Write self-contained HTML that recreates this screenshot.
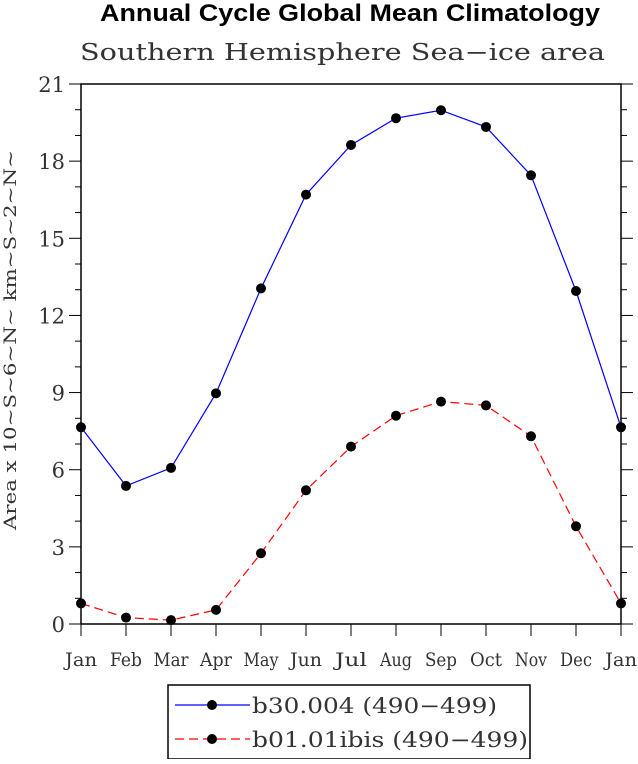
<!DOCTYPE html>
<html><head><meta charset="utf-8"><style>
body{margin:0;background:#fff;}
svg text{font-family:"DejaVu Serif","Liberation Serif",serif;fill:#333;}
</style></head><body>
<svg id="chart" width="638" height="759" xmlns="http://www.w3.org/2000/svg">
<text x="100" y="21" textLength="500" lengthAdjust="spacingAndGlyphs" style="font-family:'Liberation Sans',sans-serif;font-weight:bold;font-size:24px;fill:#000">Annual Cycle Global Mean Climatology</text>
<text x="80" y="60" textLength="525" lengthAdjust="spacingAndGlyphs" font-size="23" font-weight="300">Southern Hemisphere Sea−ice area</text>
<text transform="translate(16,530) rotate(-90)" textLength="380" lengthAdjust="spacingAndGlyphs" font-size="17">Area x 10~S~6~N~ km~S~2~N~</text>
<g id="axes"></g>
<g id="series"></g>
<g>
<rect x="168" y="685" width="362" height="74" fill="#fff" stroke="#000" stroke-width="1.5"/>
<line x1="175" y1="705" x2="250" y2="705" stroke="#0000ff" stroke-width="1.2"/>
<circle cx="212" cy="705" r="5" fill="#000"/>
<text x="252" y="713" textLength="245" lengthAdjust="spacingAndGlyphs" font-size="21">b30.004 (490−499)</text>
<line x1="175" y1="739" x2="250" y2="739" stroke="#ff0000" stroke-width="1.2" stroke-dasharray="9,5"/>
<circle cx="212" cy="739" r="5" fill="#000"/>
<text x="252" y="747" textLength="276" lengthAdjust="spacingAndGlyphs" font-size="21">b01.01ibis (490−499)</text>
</g>
</svg>
<script>
const months=["Jan","Feb","Mar","Apr","May","Jun","Jul","Aug","Sep","Oct","Nov","Dec","Jan"];
const seriesB30=[7.65,5.37,6.07,8.97,13.05,16.7,18.63,19.67,19.98,19.33,17.45,12.95,7.65];
const seriesB01=[0.8,0.25,0.15,0.55,2.75,5.2,6.9,8.1,8.65,8.5,7.3,3.8,0.8];
const yTicks=[0,3,6,9,12,15,18,21];
const NS="http://www.w3.org/2000/svg";
const X0=81,X1=621,Y0=624,Y1=84,YMAX=21;
const xs=i=>X0+i*(X1-X0)/(months.length-1);
const ys=v=>Y0-v*(Y0-Y1)/YMAX;
function mk(tag,attrs,parent){const e=document.createElementNS(NS,tag);for(const k in attrs)e.setAttribute(k,attrs[k]);parent.appendChild(e);return e;}
const ax=document.getElementById('axes');
const frame=mk('rect',{x:X0,y:Y1,width:X1-X0,height:Y0-Y1,fill:'none',stroke:'#000','stroke-width':1.5},ax);


for(let v=0;v<=YMAX;v++){
  const major=v%3===0,len=major?12:6;
  mk('line',{x1:X0-len,x2:X0,y1:ys(v),y2:ys(v),stroke:'#000','stroke-width':1},ax);
  mk('line',{x1:X1,x2:X1+len,y1:ys(v),y2:ys(v),stroke:'#000','stroke-width':1},ax);
}
yTicks.forEach(v=>{
  const t=mk('text',{x:X0-16,y:ys(v)+8,'text-anchor':'end','font-size':21,'font-weight':300},ax);
  t.textContent=v;
  
  
});
months.forEach((m,i)=>{
  mk('line',{x1:xs(i),x2:xs(i),y1:Y0,y2:Y0+12,stroke:'#000','stroke-width':1},ax);
  const t=mk('text',{x:xs(i),y:Y0+42,'text-anchor':'middle','font-size':19,textLength:m==='May'||m==='Mar'?35:32,lengthAdjust:'spacingAndGlyphs'},ax);
  t.textContent=m;
  
  
});
const sg=document.getElementById('series');
function draw(vals,color,dash,name){
  const pts=vals.map((v,i)=>xs(i)+','+ys(v)).join(' ');
  const pl=mk('polyline',{points:pts,fill:'none',stroke:color,'stroke-width':1.2,'stroke-dasharray':dash},sg);
  
  
  vals.forEach((v,i)=>{
    const c=mk('circle',{cx:xs(i),cy:ys(v),r:5,fill:'#000'},sg);
    
    
  });
}
draw(seriesB30,'#0000ff','none','b30-series');
draw(seriesB01,'#ff0000','9,5','b01-series');
</script>
</body></html>
